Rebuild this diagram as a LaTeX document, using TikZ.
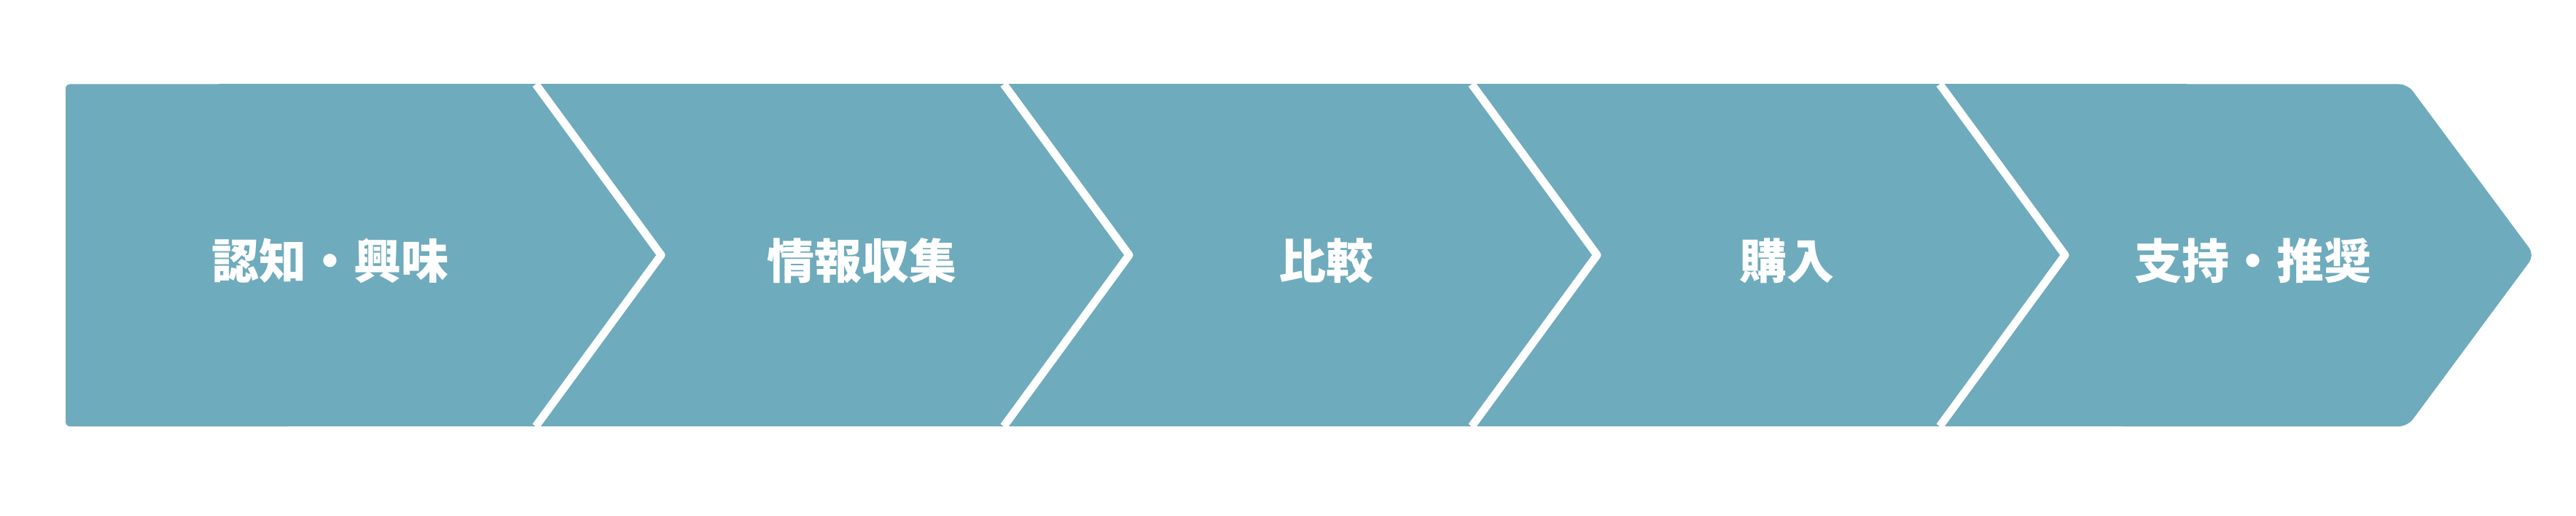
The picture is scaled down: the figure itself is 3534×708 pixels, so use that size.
\documentclass[tikz,border=0pt]{standalone}
\usepackage{fontspec}
\newfontfamily\jp{Noto Sans CJK JP}
\definecolor{bandcol}{RGB}{110,171,189}
\tikzset{
  band/.style={fill=bandcol},
  sepline/.style={draw=white, line width=11pt, line join=round},
  stagelabel/.style={text=white, inner sep=0pt, anchor=center, font=\jp\bfseries\fontsize{65pt}{70pt}\selectfont}
}
\begin{document}
\begin{tikzpicture}[x=1pt,y=-1pt]
\useasboundingbox (0,0) rectangle (3534,708);
% band
\fill[band, rounded corners=6pt] (90,115.5) rectangle (400,585);
\fill[band] (300,115.5) rectangle (3000,585);
\fill[band, rounded corners=12pt] (2900,115.5) -- (3303,115.5) -- (3477,350) -- (3303,585) -- (2900,585) -- cycle;
% separators
\coordinate (s1t) at (735,115.5);  \coordinate (s1m) at (907,350);  \coordinate (s1b) at (735,585);
\coordinate (s2t) at (1377,115.5); \coordinate (s2m) at (1549,350); \coordinate (s2b) at (1377,585);
\coordinate (s3t) at (2019,115.5); \coordinate (s3m) at (2191,350); \coordinate (s3b) at (2019,585);
\coordinate (s4t) at (2661,115.5); \coordinate (s4m) at (2833,350); \coordinate (s4b) at (2661,585);
\draw[sepline] (s1t) -- (s1m) -- (s1b);
\draw[sepline] (s2t) -- (s2m) -- (s2b);
\draw[sepline] (s3t) -- (s3m) -- (s3b);
\draw[sepline] (s4t) -- (s4m) -- (s4b);
% labels
\node[stagelabel] (l1) at (453,357.5) {認知・興味};
\node[stagelabel] (l2) at (1182,357.5) {情報収集};
\node[stagelabel] (l3) at (1819,357.5) {比較};
\node[stagelabel] (l4) at (2451,357.5) {購入};
\node[stagelabel] (l5) at (3091,357.5) {支持・推奨};
\end{tikzpicture}
\end{document}
